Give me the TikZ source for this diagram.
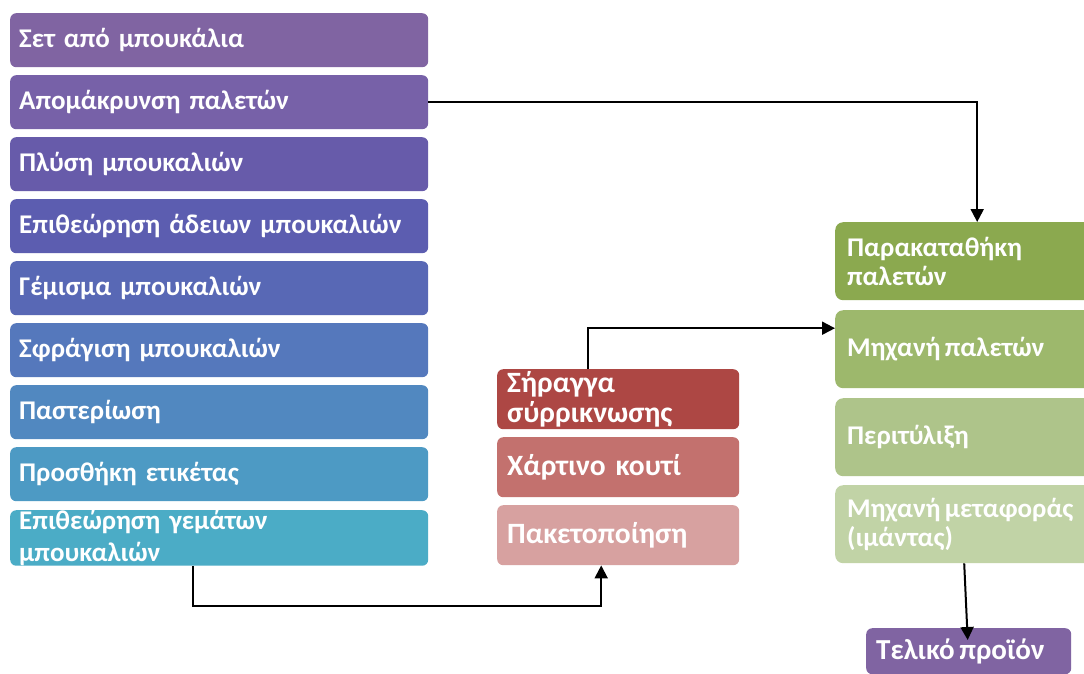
\documentclass[tikz,border=0pt]{standalone}
\usepackage{fontspec}
\setmainfont{Carlito}
\usetikzlibrary{arrows.meta}

% fills of the process boxes
\definecolor{la}{HTML}{8064A2}
\definecolor{lb}{HTML}{7761A8}
\definecolor{lc}{HTML}{675BAA}
\definecolor{ld}{HTML}{5C5DB0}
\definecolor{le}{HTML}{5868B5}
\definecolor{lf}{HTML}{5578BC}
\definecolor{lg}{HTML}{5188C0}
\definecolor{lh}{HTML}{4D9AC4}
\definecolor{li}{HTML}{4BACC6}
\definecolor{ma}{HTML}{AD4744}
\definecolor{mb}{HTML}{C3716E}
\definecolor{mc}{HTML}{D7A1A0}
\definecolor{ra}{HTML}{8BA94F}
\definecolor{rb}{HTML}{9DB86C}
\definecolor{rc}{HTML}{AEC48A}
\definecolor{rd}{HTML}{C1D3A6}
\definecolor{fin}{HTML}{8064A2}

% narrow word gap used in a few labels
\newcommand{\tsp}{\hspace{4.5pt}}

\tikzset{
  procbox/.style={rounded corners=6pt, text=white, align=left,
    anchor=north west, inner ysep=0pt, font=\bfseries},
  leftbox/.style={procbox, fill=#1, minimum width=418pt, minimum height=54pt,
    text width=400pt, inner xsep=9pt, font=\bfseries\fontsize{27}{32}\selectfont},
  midbox/.style={procbox, fill=#1, minimum width=242pt, minimum height=60pt,
    text width=222pt, inner xsep=10pt, font=\bfseries\fontsize{29.5}{30}\selectfont},
  rightbox/.style={procbox, rounded corners=8pt, fill=#1, minimum width=284pt,
    minimum height=78pt, text width=260pt, inner xsep=12pt,
    font=\bfseries\fontsize{27}{29}\selectfont},
  flow/.style={line width=2pt, -{Triangle[length=13pt,width=13pt]}},
}

\begin{document}
\begin{tikzpicture}[x=1pt,y=-1pt]
\clip (0,0) rectangle (1084,673);
\fill[white] (0,0) rectangle (1084,673);

% bottling line
\node[leftbox=la] (n1) at (10,13)  {Σετ από μπουκάλια};
\node[leftbox=lb] (n2) at (10,75)  {Απομάκρυνση παλετών};
\node[leftbox=lc] (n3) at (10,137) {Πλύση μπουκαλιών};
\node[leftbox=ld] (n4) at (10,199) {Επιθεώρηση άδειων μπουκαλιών};
\node[leftbox=le] (n5) at (10,261) {Γέμισμα μπουκαλιών};
\node[leftbox=lf] (n6) at (10,323) {Σφράγιση μπουκαλιών};
\node[leftbox=lg] (n7) at (10,385) {Παστερίωση};
\node[leftbox=lh] (n8) at (10,447) {Προσθήκη ετικέτας};
\node[leftbox=li] (n9) at (10,510) {Επιθεώρηση γεμάτων\\μπουκαλιών};

% packing
\node[midbox=ma] (s) at (497,369) {Σήραγγα\\σύρρικνωσης};
\node[midbox=mb] (k) at (497,437) {Χάρτινο κουτί};
\node[midbox=mc] (c) at (497,505) {Πακετοποίηση};

% palletising
\node[rightbox=ra] (p)  at (835,222) {Παρακαταθήκη\\παλετών};
\node[rightbox=rb] (m)  at (835,310) {Μηχανή\tsp παλετών};
\node[rightbox=rc] (w)  at (835,398) {Περιτύλιξη};
\node[rightbox=rd] (mf) at (835,485) {Μηχανή\tsp μεταφοράς\\(ιμάντας)};

\node[procbox, fill=fin, minimum width=201pt, minimum height=46pt,
  text width=185pt, inner xsep=10pt, font=\bfseries\fontsize{29}{30}\selectfont]
  (t) at (866,628) {Τελικό\tsp προϊόν};

% connectors
\draw[flow] (n2.east) -| (p.north);
\draw[flow] ([xshift=-30pt]s.north) |- ([yshift=21pt]m.west);
\draw[flow] ([xshift=-26pt]n9.south) -- ++(0,40) -| ([xshift=-17pt]c.south);
\draw[flow] ([xshift=-13pt]mf.south) -- ([xshift=-1pt,yshift=-12pt]t.north);
\end{tikzpicture}
\end{document}
